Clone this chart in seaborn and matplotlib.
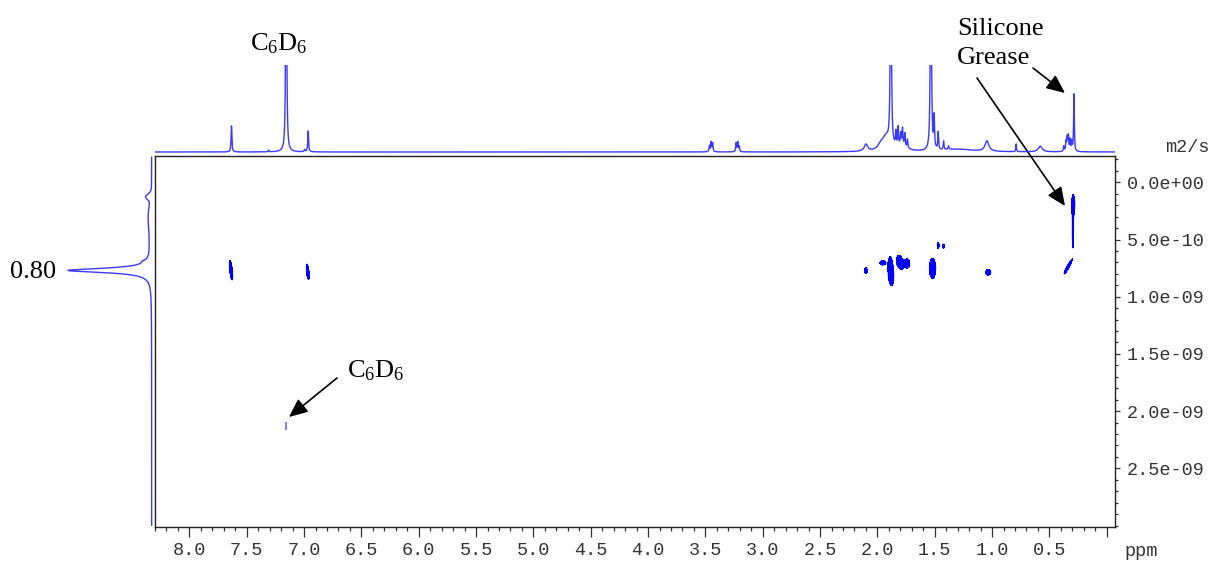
import numpy as np
import matplotlib
matplotlib.use("Agg")
import matplotlib.pyplot as plt
from matplotlib.ticker import MultipleLocator, FuncFormatter
import seaborn as sns

# ---------------- data ----------------
# 1H projection (top trace): peak list  (ppm, relative height, FWHM ppm)
h1_ppm = [7.633, 7.310, 7.156, 6.996, 6.964,
          3.465, 3.450, 3.437, 3.232, 3.218, 3.205,
          2.100, 1.970, 1.925, 1.883,
          1.839, 1.819, 1.796, 1.781, 1.761, 1.738, 1.790,
          1.534, 1.505, 1.470, 1.423, 1.380, 1.300,
          1.045, 0.790, 0.580,
          0.375, 0.355, 0.345, 0.335, 0.320, 0.305, 0.286]
h1_height = [30, 1.8, 400, 2.5, 24,
             7, 11, 10, 10, 11, 6,
             8, 6, 15, 400,
             16, 21, 13, 19, 15, 10, 6,
             400, 36, 20, 10, 4, 3,
             12, 9, 6.5,
             6, 11, 15, 17, 13, 11, 66]
h1_fwhm = [0.008, 0.010, 0.008, 0.010, 0.008,
           0.008, 0.008, 0.008, 0.008, 0.008, 0.008,
           0.035, 0.060, 0.070, 0.008,
           0.008, 0.008, 0.008, 0.008, 0.008, 0.008, 0.100,
           0.008, 0.008, 0.008, 0.008, 0.010, 0.300,
           0.040, 0.006, 0.040,
           0.008, 0.008, 0.008, 0.008, 0.008, 0.008, 0.007]

# diffusion projection (left trace): (D in m2/s, relative height, FWHM)
dproj_D = [7.70e-10, 6.90e-10, 1.25e-10, 2.80e-10, 5.00e-10]
dproj_height = [100, 4, 6, 3.5, 2.0]
dproj_fwhm = [0.45e-10, 0.25e-10, 0.55e-10, 2.4e-10, 3.0e-10]
dproj_lorentz = [True, True, False, False, False]

# 2D DOSY cross peaks: centre ppm, centre D, half-width ppm, half-height D, tilt (ppm per 1e-10)
blob_ppm = [7.637, 6.968, 2.101, 1.953, 1.888, 1.872, 1.813, 1.790, 1.743,
            1.519, 1.470, 1.423, 1.033, 0.338, 0.292, 0.295]
blob_D = [7.69e-10, 7.81e-10, 7.73e-10, 7.04e-10, 7.60e-10, 8.20e-10, 6.88e-10, 7.20e-10, 7.10e-10,
          7.52e-10, 5.52e-10, 5.58e-10, 7.86e-10, 7.40e-10, 1.95e-10, 4.30e-10]
blob_hw = [0.012, 0.011, 0.012, 0.025, 0.020, 0.012, 0.022, 0.015, 0.025,
           0.028, 0.008, 0.008, 0.022, 0.012, 0.014, 0.006]
blob_hh = [0.85e-10, 0.67e-10, 0.26e-10, 0.19e-10, 1.10e-10, 0.60e-10, 0.50e-10, 0.35e-10, 0.40e-10,
           0.87e-10, 0.25e-10, 0.19e-10, 0.25e-10, 0.61e-10, 0.85e-10, 1.45e-10]
blob_tilt = [-0.011, -0.010, 0, 0, 0, 0, 0, 0, 0, 0, 0, 0, 0, 0.053, 0, 0]

# residual solvent cross peak (weak, lighter)
solv_ppm = [7.156]
solv_D = [2.13e-9]
solv_hw = [0.007]
solv_hh = [0.30e-10]

x_ticks = [8.0, 7.5, 7.0, 6.5, 6.0, 5.5, 5.0, 4.5, 4.0, 3.5, 3.0, 2.5, 2.0, 1.5, 1.0, 0.5, 0.0]
y_ticks = [0.0, 5.0e-10, 1.0e-9, 1.5e-9, 2.0e-9, 2.5e-9]

# ---------------- figure ----------------
sns.set_theme(style="white")
plt.rcParams["font.family"] = ["Liberation Serif", "DejaVu Serif"]
plt.rcParams["mathtext.fontset"] = "custom"
plt.rcParams["mathtext.rm"] = "Liberation Serif"

W, H = 1213, 562
fig = plt.figure(figsize=(W / 100, H / 100), dpi=100)
fig.patch.set_facecolor("white")


def fx(px):
    return px / W


def fy(py):
    return 1 - py / H


XL = (8.30, -0.072)
YL = (3.013e-9, -2.3e-10)

ax = fig.add_axes([fx(155), fy(527), 960 / W, 371 / H])
axt = fig.add_axes([fx(155), fy(156), 960 / W, 91 / H])
axl = fig.add_axes([fx(62), fy(527), 93 / W, 371 / H])
for a in (axt, axl):
    a.patch.set_visible(False)
    for s in a.spines.values():
        s.set_visible(False)
    a.set_xticks([])
    a.set_yticks([])

LINE_BLUE = "#3a3aff"

# --- top 1H trace
ppm_grid = np.linspace(XL[0], XL[1], 12000)
spec = np.zeros_like(ppm_grid)
for p, h, w in zip(h1_ppm, h1_height, h1_fwhm):
    spec += h / (1 + ((ppm_grid - p) / (w / 2)) ** 2)
sns.lineplot(x=ppm_grid, y=spec, ax=axt, color=LINE_BLUE, lw=1.0,
             estimator=None, sort=False)
axt.set_xlim(*XL)
axt.set_ylim(-4.6, 100)
axt.set_xlabel("")
axt.set_ylabel("")

# --- left diffusion trace
D_grid = np.linspace(-2.2e-10, 3.0e-9, 6000)
proj = np.zeros_like(D_grid)
for d, h, w, lor in zip(dproj_D, dproj_height, dproj_fwhm, dproj_lorentz):
    if lor:
        proj += h / (1 + ((D_grid - d) / (w / 2)) ** 2)
    else:
        proj += h * np.exp(-0.5 * ((D_grid - d) / (w / 2.355)) ** 2)
sns.lineplot(x=proj, y=D_grid, ax=axl, color=LINE_BLUE, lw=1.0,
             estimator=None, sort=False, orient="y")
axl.set_xlim(107.5, -4)
axl.set_ylim(*YL)
axl.set_xlabel("")
axl.set_ylabel("")

# --- 2D cross peaks
gx = np.arange(-0.05, 8.25, 0.0025)
gy = np.arange(0.0, 10.5e-10, 0.025e-10)
GX, GY = np.meshgrid(gx, gy)
Z = np.zeros_like(GX)
for p, d, hw, hh, t in zip(blob_ppm, blob_D, blob_hw, blob_hh, blob_tilt):
    sx = hw / 1.1774
    sy = hh / 1.1774
    pc = p + t * (GY - d) / 1e-10
    Z += np.exp(-0.5 * (((GX - pc) / sx) ** 2 + ((GY - d) / sy) ** 2))
ax.contourf(GX, GY, Z, levels=[0.5, 1e9], colors=["#0000ff"])
ax.contour(GX, GY, Z, levels=[0.5], colors=["#0000ff"], linewidths=0.6)

sx2 = np.arange(7.08, 7.24, 0.0015)
sy2 = np.arange(20.0e-10, 22.6e-10, 0.02e-10)
SX, SY = np.meshgrid(sx2, sy2)
Zs = np.zeros_like(SX)
for p, d, hw, hh in zip(solv_ppm, solv_D, solv_hw, solv_hh):
    Zs += np.exp(-0.5 * (((SX - p) / (hw / 1.1774)) ** 2 + ((SY - d) / (hh / 1.1774)) ** 2))
ax.contourf(SX, SY, Zs, levels=[0.5, 1e9], colors=["#7f7fff"])

ax.set_xlim(*XL)
ax.set_ylim(*YL)

# axes styling
TICK_COL = "#333333"
for s in ax.spines.values():
    s.set_color("#222222")
    s.set_linewidth(1.0)
ax.set_xticks(x_ticks)
ax.xaxis.set_minor_locator(MultipleLocator(0.1))
ax.xaxis.set_major_formatter(FuncFormatter(lambda v, pos: "" if abs(v) < 1e-6 else f"{v:.1f}"))
ax.yaxis.tick_right()
ax.set_yticks(y_ticks)
ax.yaxis.set_minor_locator(MultipleLocator(1e-10))
ax.yaxis.set_major_formatter(FuncFormatter(lambda v, pos: f"{v:.1e}"))
ax.tick_params(axis="x", which="major", bottom=True, top=False, length=7, width=0.9,
               color=TICK_COL, pad=4, labelsize=13.3, labelcolor=TICK_COL)
ax.tick_params(axis="x", which="minor", bottom=True, top=False, length=2.9, width=0.9, color=TICK_COL)
ax.tick_params(axis="y", which="major", left=False, right=True, length=3.6, width=0.9,
               color=TICK_COL, pad=5, labelsize=13.3, labelcolor=TICK_COL)
ax.tick_params(axis="y", which="minor", left=False, right=True, length=2.4, width=0.9, color=TICK_COL)
for lab in ax.get_xticklabels() + ax.get_yticklabels():
    lab.set_family("Liberation Mono")
ax.set_xlabel("")
ax.set_ylabel("")
ax.grid(False)

mono = dict(family="Liberation Mono", fontsize=13.3, color=TICK_COL)
fig.text(fx(1124), fy(551), "ppm", ha="left", va="center", **mono)
fig.text(fx(1165), fy(147), "m2/s", ha="left", va="center", **mono)

# annotations
serif = dict(fontsize=19, color="black")
fig.text(fx(250), fy(50), r"$\mathrm{C_6D_6}$", ha="left", va="baseline", **serif)
fig.text(fx(347), fy(377), r"$\mathrm{C_6D_6}$", ha="left", va="baseline", **serif)
fig.text(fx(957), fy(35), "Silicone", ha="left", va="baseline", **serif)
fig.text(fx(957), fy(64), "Grease", ha="left", va="baseline", **serif)
fig.text(fx(10), fy(278), "0.80", ha="left", va="baseline", **serif)

arrow = dict(arrowstyle="-|>,head_length=0.45,head_width=0.2", mutation_scale=25,
             color="black", lw=1.2, shrinkA=0, shrinkB=0)
ax.annotate("", xy=(fx(1065), fy(93)), xycoords="figure fraction",
            xytext=(fx(1033), fy(68)), textcoords="figure fraction",
            arrowprops=arrow, annotation_clip=False)
ax.annotate("", xy=(fx(1065), fy(206)), xycoords="figure fraction",
            xytext=(fx(977), fy(78)), textcoords="figure fraction",
            arrowprops=arrow, annotation_clip=False)
ax.annotate("", xy=(fx(289), fy(417)), xycoords="figure fraction",
            xytext=(fx(337), fy(378)), textcoords="figure fraction",
            arrowprops=arrow, annotation_clip=False)

fig.savefig("out.png", dpi=100, facecolor="white")
